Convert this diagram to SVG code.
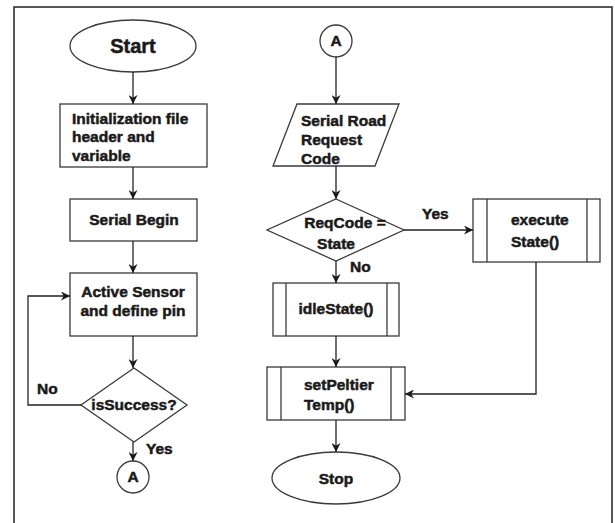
<svg xmlns="http://www.w3.org/2000/svg" width="615" height="523" viewBox="0 0 615 523">
  <style>
    .shape { fill: #ffffff; stroke: #3a3a3a; stroke-width: 1.3; }
    .line { fill: none; stroke: #222222; stroke-width: 1.3; }
    .lbl { font-family: "Liberation Sans", Arial, sans-serif; font-weight: bold; font-size: 15.5px; fill: #1a1a1a; stroke: #1a1a1a; stroke-width: 0.5; }
    .mid { text-anchor: middle; }
  </style>
  <defs>
    <marker id="arrow" viewBox="0 0 10 10" refX="10" refY="5" markerWidth="9" markerHeight="9" markerUnits="userSpaceOnUse" orient="auto">
      <path d="M0,0 L10,5 L0,10 L3,5 Z" fill="#1a1a1a"/>
    </marker>
  </defs>

  <rect width="615" height="523" fill="#ffffff"/>
  <!-- page frame -->
  <rect x="14" y="7" width="598" height="530" fill="none" stroke="#222" stroke-width="1.5"/>

  <!-- left column -->
  <g id="start">
    <ellipse class="shape" cx="133" cy="46" rx="63" ry="26"/>
    <text class="lbl mid" x="133" y="53" style="font-size:20px">Start</text>
  </g>
  <g id="init">
    <rect class="shape" x="60" y="104" width="147" height="63"/>
    <text class="lbl" x="72" y="124">Initialization file</text>
    <text class="lbl" x="72" y="142">header and</text>
    <text class="lbl" x="72" y="161">variable</text>
  </g>
  <g id="serialBegin">
    <rect class="shape" x="70" y="199" width="127" height="42"/>
    <text class="lbl mid" x="134" y="225">Serial Begin</text>
  </g>
  <g id="activeSensor">
    <rect class="shape" x="70" y="273" width="127" height="63"/>
    <text class="lbl mid" x="133" y="297">Active Sensor</text>
    <text class="lbl mid" x="133" y="316">and define pin</text>
  </g>
  <g id="isSuccess">
    <polygon class="shape" points="134,368 187,405 134,442 81,405"/>
    <text class="lbl mid" x="134" y="410">isSuccess?</text>
  </g>
  <g id="connA1">
    <circle class="shape" cx="133" cy="477" r="16"/>
    <text class="lbl mid" x="133" y="482">A</text>
  </g>

  <!-- right column -->
  <g id="connA2">
    <circle class="shape" cx="336" cy="41" r="16"/>
    <text class="lbl mid" x="336" y="46">A</text>
  </g>
  <g id="serialRead">
    <polygon class="shape" points="297,104 399,104 375,166 273,166"/>
    <text class="lbl" x="301" y="126">Serial Road</text>
    <text class="lbl" x="301" y="145">Request</text>
    <text class="lbl" x="301" y="164">Code</text>
  </g>
  <g id="reqCode">
    <polygon class="shape" points="336,199 404,230 336,261 267,230"/>
    <text class="lbl mid" x="345" y="228">ReqCode =</text>
    <text class="lbl mid" x="336" y="249">State</text>
  </g>
  <g id="executeState">
    <rect class="shape" x="473" y="199" width="127" height="63"/>
    <line class="shape" x1="487" y1="199" x2="487" y2="262"/>
    <line class="shape" x1="587" y1="199" x2="587" y2="262"/>
    <text class="lbl" x="511" y="225">execute</text>
    <text class="lbl" x="511" y="247">State()</text>
  </g>
  <g id="idleState">
    <rect class="shape" x="273" y="283" width="126" height="53"/>
    <line class="shape" x1="286" y1="283" x2="286" y2="336"/>
    <line class="shape" x1="387" y1="283" x2="387" y2="336"/>
    <text class="lbl mid" x="336" y="314">idleState()</text>
  </g>
  <g id="setPeltier">
    <rect class="shape" x="267" y="367" width="138" height="53"/>
    <line class="shape" x1="281" y1="367" x2="281" y2="420"/>
    <line class="shape" x1="391" y1="367" x2="391" y2="420"/>
    <text class="lbl" x="304" y="390">setPeltier</text>
    <text class="lbl" x="304" y="410">Temp()</text>
  </g>
  <g id="stop">
    <ellipse class="shape" cx="336" cy="478" rx="64" ry="26"/>
    <text class="lbl mid" x="336" y="484">Stop</text>
  </g>

  <!-- connectors -->
  <g id="connectors">
    <line class="line" x1="133" y1="72" x2="133" y2="104" marker-end="url(#arrow)"/>
    <line class="line" x1="133" y1="167" x2="133" y2="199" marker-end="url(#arrow)"/>
    <line class="line" x1="133" y1="241" x2="133" y2="273" marker-end="url(#arrow)"/>
    <line class="line" x1="133" y1="336" x2="133" y2="368" marker-end="url(#arrow)"/>
    <polyline class="line" points="81,405 28,405 28,296 70,296" marker-end="url(#arrow)"/>
    <line class="line" x1="133" y1="442" x2="133" y2="461" marker-end="url(#arrow)"/>

    <line class="line" x1="336" y1="57" x2="336" y2="104" marker-end="url(#arrow)"/>
    <line class="line" x1="336" y1="166" x2="336" y2="199" marker-end="url(#arrow)"/>
    <line class="line" x1="404" y1="230" x2="473" y2="230" marker-end="url(#arrow)"/>
    <line class="line" x1="336" y1="261" x2="336" y2="283" marker-end="url(#arrow)"/>
    <line class="line" x1="336" y1="336" x2="336" y2="367" marker-end="url(#arrow)"/>
    <polyline class="line" points="536,262 536,394 405,394" marker-end="url(#arrow)"/>
    <line class="line" x1="336" y1="420" x2="336" y2="452" marker-end="url(#arrow)"/>

    <text class="lbl" x="37" y="394">No</text>
    <text class="lbl" x="146" y="454">Yes</text>
    <text class="lbl" x="422" y="219">Yes</text>
    <text class="lbl" x="350" y="272">No</text>
  </g>
</svg>
